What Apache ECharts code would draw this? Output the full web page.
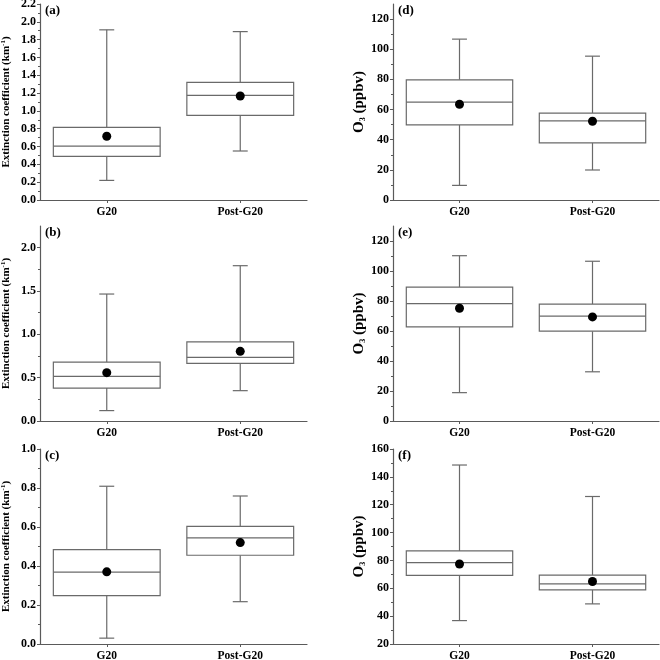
<!DOCTYPE html>
<html>
<head>
<meta charset="utf-8">
<script src="https://cdn.jsdelivr.net/npm/echarts@6/dist/echarts.min.js"></script>
<style>
html,body{margin:0;padding:0;background:#fff;}
#c{width:660px;height:660px;}
</style>
</head>
<body>
<div id="c"></div>
<script>
// Categories
const categories = ['G20', 'Post-G20'];
// Box stats per category: [min, Q1, median, Q3, max]
const boxA = [[0.22, 0.49, 0.605, 0.815, 1.91], [0.55, 0.95, 1.175, 1.32, 1.89]];
const meanA = [0.715, 1.167];
const boxB = [[0.12, 0.38, 0.515, 0.68, 1.465], [0.35, 0.665, 0.735, 0.912, 1.792]];
const meanB = [0.558, 0.804];
const boxC = [[0.03, 0.248, 0.369, 0.484, 0.809], [0.217, 0.455, 0.544, 0.603, 0.759]];
const meanC = [0.37, 0.52];
const boxD = [[9.7, 49.8, 64.9, 79.7, 106.7], [19.9, 37.9, 52.5, 57.6, 95.4]];
const meanD = [63.5, 52.2];
const boxE = [[18.9, 62.8, 78.3, 89.2, 110.2], [32.8, 59.9, 69.9, 77.9, 106.5]];
const meanE = [75.2, 69.4];
const boxF = [[36.8, 69.2, 78.4, 86.8, 148.5], [48.8, 58.9, 63.2, 69.5, 125.9]];
const meanF = [77.4, 64.9];
// Tick labels per panel
const ticksA = [0, 0.2, 0.4, 0.6, 0.8, 1.0, 1.2, 1.4, 1.6, 1.8, 2.0, 2.2];
const ticksB = [0, 0.5, 1.0, 1.5, 2.0];
const ticksC = [0, 0.2, 0.4, 0.6, 0.8, 1.0];
const ticksD = [0, 20, 40, 60, 80, 100, 120];
const ticksE = [0, 20, 40, 60, 80, 100, 120];
const ticksF = [20, 40, 60, 80, 100, 120, 140, 160];
const panelLabels = ['(a)', '(b)', '(c)', '(d)', '(e)', '(f)'];
const extTitle = 'Extinction coefficient (km{sup|-1})';
const o3Title = 'O{sub|3} (ppbv)';

const FONT = '"Liberation Serif", "Times New Roman", serif';
const AX = '#5a5a5a';
const BOXC = '#6a6a6a';

const panels = [
  {box: boxA, mean: meanA, ticks: ticksA, min: 0, max: 2.2, interval: 0.2, dec: 1, title: extTitle, col: 0, row: 0},
  {box: boxB, mean: meanB, ticks: ticksB, min: 0, max: 2.25, interval: 0.5, dec: 1, title: extTitle, col: 0, row: 1},
  {box: boxC, mean: meanC, ticks: ticksC, min: 0, max: 1.0, interval: 0.2, dec: 1, title: extTitle, col: 0, row: 2},
  {box: boxD, mean: meanD, ticks: ticksD, min: 0, max: 130, interval: 20, dec: 0, title: o3Title, col: 1, row: 0},
  {box: boxE, mean: meanE, ticks: ticksE, min: 0, max: 130, interval: 20, dec: 0, title: o3Title, col: 1, row: 1},
  {box: boxF, mean: meanF, ticks: ticksF, min: 20, max: 160, interval: 20, dec: 0, title: o3Title, col: 1, row: 2}
];

const colLeft = [40, 393];
const colWidth = [267, 266];
const rowTop = [4, 226, 449];
const rowHeight = [196, 195, 195];

const grids = [], xAxes = [], yAxes = [], series = [], graphics = [];

panels.forEach((p, i) => {
  grids.push({left: colLeft[p.col], top: rowTop[p.row], width: colWidth[p.col], height: rowHeight[p.row], outerBoundsMode: 'none'});
  xAxes.push({
    type: 'category', gridIndex: i, data: categories, boundaryGap: true,
    axisLine: {show: true, lineStyle: {color: AX, width: 1.2}},
    axisTick: {show: true, alignWithLabel: true, length: 3, inside: false, lineStyle: {color: AX}},
    axisLabel: {color: '#000', fontFamily: FONT, fontWeight: 'bold', fontSize: 11.5, margin: 6},
    splitLine: {show: false}
  });
  const nameGap = p.col === 0 ? 28 : 24;
  yAxes.push({
    type: 'value', gridIndex: i, min: p.min, max: p.max, interval: p.interval,
    name: p.title, nameLocation: 'middle', nameRotate: 90, nameGap: nameGap,
    nameTextStyle: {
      color: '#000', fontFamily: FONT, fontWeight: 'bold', fontSize: p.col === 0 ? 11 : 15,
      rich: {
        sup: {fontFamily: FONT, fontWeight: 'bold', fontSize: 7, verticalAlign: 'top', padding: [0, 0, 5, 0]},
        sub: {fontFamily: FONT, fontWeight: 'bold', fontSize: 8, padding: [6, 0, 0, 0]}
      }
    },
    axisLine: {show: true, lineStyle: {color: AX, width: 1.2}},
    axisTick: {show: true, inside: false, length: 3, lineStyle: {color: AX}, customValues: p.ticks},
    minorTick: {show: true, splitNumber: 2, length: 2, lineStyle: {color: AX}},
    axisLabel: {
      color: '#000', fontFamily: FONT, fontWeight: 'bold', fontSize: 12, margin: 4,
      customValues: p.ticks,
      formatter: v => v.toFixed(p.dec)
    },
    splitLine: {show: false},
    minorSplitLine: {show: false}
  });
  series.push({
    type: 'custom', xAxisIndex: i, yAxisIndex: i,
    data: p.box.map((b, k) => [k].concat(b)),
    encode: {x: 0, y: [1, 2, 3, 4, 5]},
    renderItem: function (params, api) {
      const x = api.value(0);
      const bw = api.size([1, 0])[0];
      const half = bw * 0.4;
      const cap = bw * 0.056;
      const pMin = api.coord([x, api.value(1)]);
      const pQ1 = api.coord([x, api.value(2)]);
      const pMed = api.coord([x, api.value(3)]);
      const pQ3 = api.coord([x, api.value(4)]);
      const pMax = api.coord([x, api.value(5)]);
      const cx = pMed[0];
      const st = {stroke: BOXC, lineWidth: 1.2, fill: null};
      return {
        type: 'group',
        children: [
          {type: 'line', shape: {x1: cx, y1: pMax[1], x2: cx, y2: pQ3[1]}, style: st},
          {type: 'line', shape: {x1: cx, y1: pQ1[1], x2: cx, y2: pMin[1]}, style: st},
          {type: 'line', shape: {x1: cx - cap, y1: pMax[1], x2: cx + cap, y2: pMax[1]}, style: st},
          {type: 'line', shape: {x1: cx - cap, y1: pMin[1], x2: cx + cap, y2: pMin[1]}, style: st},
          {type: 'rect', shape: {x: cx - half, y: pQ3[1], width: half * 2, height: pQ1[1] - pQ3[1]}, style: {stroke: BOXC, lineWidth: 1.2, fill: '#fff'}},
          {type: 'line', shape: {x1: cx - half, y1: pMed[1], x2: cx + half, y2: pMed[1]}, style: st}
        ]
      };
    },
    z: 2
  });
  series.push({
    type: 'scatter', xAxisIndex: i, yAxisIndex: i,
    data: p.mean.map((m, k) => [k, m]),
    symbol: 'circle', symbolSize: 9,
    itemStyle: {color: '#000', opacity: 1},
    z: 3
  });
  graphics.push({
    type: 'text', left: colLeft[p.col] + 5, top: rowTop[p.row],
    style: {text: panelLabels[i], fontFamily: FONT, fontWeight: 'bold', fontSize: 13, fill: '#000'}
  });
});

const chart = echarts.init(document.getElementById('c'), null, {renderer: 'canvas'});
chart.setOption({
  animation: false,
  backgroundColor: '#fff',
  grid: grids,
  xAxis: xAxes,
  yAxis: yAxes,
  series: series,
  graphic: graphics
});
</script>
</body>
</html>
